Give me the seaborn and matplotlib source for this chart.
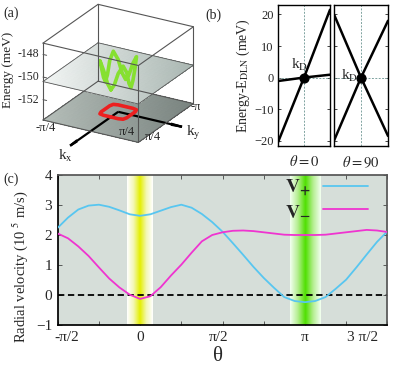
import numpy as np
import pandas as pd
import matplotlib
matplotlib.use('Agg')
import matplotlib.pyplot as plt
import seaborn as sns
from matplotlib.colors import LinearSegmentedColormap
from matplotlib.transforms import ScaledTranslation, Bbox

PI = np.pi
W, H = 399, 368

# ---- (c) radial velocity, theta sampled every pi/16 from -pi/2 to 3pi/2
theta_step = list(range(-8, 25))
v_plus = [2.25, 2.59, 2.86, 2.99, 3.02, 2.95, 2.83, 2.70, 2.65, 2.70, 2.82,
          2.94, 3.02, 2.92, 2.71, 2.44, 2.12, 1.74, 1.35, 0.95, 0.58, 0.25,
          -0.06, -0.19, -0.23, -0.19, -0.06, 0.22, 0.52, 0.93, 1.36, 1.78, 2.13]
v_minus = [2.06, 1.90, 1.63, 1.31, 0.93, 0.56, 0.26, 0.02, -0.12, -0.03, 0.27,
           0.66, 1.02, 1.42, 1.80, 2.01, 2.10, 2.15, 2.16, 2.14, 2.10, 2.06,
           2.02, 2.01, 2.01, 2.01, 2.02, 2.06, 2.10, 2.14, 2.18, 2.16, 2.11]
band_center = [0, PI]
band_halfwidth = [0.245, 0.293]
c_xticks = [-PI / 2, 0, PI / 2, PI, 3 * PI / 2]
c_xticklabels = ['-π/2', '0', 'π/2', 'π', '3 π/2']

# ---- (b) dispersion through the Dirac node
k_b = [-1, 0, 1]
e_theta0_steep = [-20.5, 0, 21.5]
e_theta0_flat = [-1.1, 0, 0.9]
e_theta90_down = [20, 0, -18.5]
e_theta90_up = [-20, 0, 18]

# ---- (a) nodal loop: angle (deg), radius, energy (meV)
loop_angle = [0, 15, 30, 45, 60, 75, 90, 105, 120, 135, 150, 165, 180, 195,
              210, 225, 240, 255, 270, 285, 300, 315, 330, 345, 360]
loop_r = [0.21, 0.217, 0.243, 0.27, 0.243, 0.217, 0.21, 0.217, 0.243, 0.27,
          0.243, 0.217, 0.21, 0.217, 0.243, 0.27, 0.243, 0.217, 0.21, 0.217,
          0.243, 0.27, 0.243, 0.217, 0.21]
loop_e = [-151.4, -150.9, -149.8, -149.1, -149.8, -150.9, -151.4, -150.9,
          -149.8, -149.1, -149.8, -150.9, -151.4, -150.9, -149.8, -149.1,
          -149.8, -150.9, -151.4, -150.9, -149.8, -149.1, -149.8, -150.9, -151.4]
z_ticks = [-148, -150, -152]
z_bottom, z_top, z_mid = -153.8, -147.0, -150.4
kx_arrow, ky_arrow = 1.37, 1.05

sns.set_theme(style='ticks')
plt.rcParams['font.family'] = ['Liberation Serif', 'DejaVu Serif']
plt.rcParams['mathtext.fontset'] = 'stix'

fig = plt.figure(figsize=(W / 100, H / 100), dpi=100)

# ================= panel (c)
axc = fig.add_axes([57.7 / W, 1 - 325.3 / H, 329.6 / W, 150 / H])
axc.set_facecolor('#d6ded9')

for c, hw, cols in zip(band_center, band_halfwidth,
                       [['#ffffff', '#f3f7b5', '#e4ef00', '#f3f7b5', '#ffffff'],
                        ['#f2fff0', '#b5ee90', '#4fe000', '#b5ee90', '#f2fff0']]):
    cmap = LinearSegmentedColormap.from_list('band', cols)
    axc.imshow(np.linspace(0, 1, 101)[None, :], cmap=cmap, aspect='auto',
               extent=(c - hw, c + hw, -1, 4), zorder=1, interpolation='bilinear')

df = pd.DataFrame({
    'theta': np.tile(np.array(theta_step) * PI / 16, 2),
    'v': v_plus + v_minus,
    'branch': ['V+'] * len(v_plus) + ['V-'] * len(v_minus),
})
sns.lineplot(data=df, x='theta', y='v', hue='branch',
             palette={'V+': '#58c6f0', 'V-': '#ef34d0'}, lw=1.3,
             legend=False, ax=axc, zorder=3)
axc.axhline(0, color='black', ls=(0, (3.5, 2)), lw=1.3, zorder=2)

axc.set_xlim(-PI / 2, 3 * PI / 2)
axc.set_ylim(-1, 4)
axc.set_xticks(c_xticks)
axc.set_xticklabels(c_xticklabels)
axc.set_xticks([-PI / 4, PI / 4, 3 * PI / 4, 5 * PI / 4], minor=True)
axc.set_yticks([-1, 0, 1, 2, 3, 4])
axc.tick_params(which='both', direction='in', top=True, right=True, length=3,
                width=0.6, color='#444444', labelsize=11, pad=4)
shifts = [9, 0, -4, 0, -25]
for lab, dx in zip(axc.get_xticklabels(), shifts):
    lab.set_transform(lab.get_transform() + ScaledTranslation(dx / 100, 0, fig.dpi_scale_trans))
for s in ['top', 'right']:
    axc.spines[s].set_color('#555555')
for s in ['left', 'bottom']:
    axc.spines[s].set_color('black')
axc.set_xlabel('θ', fontsize=15)
axc.xaxis.set_label_coords(0.486, -0.145)
axc.set_ylabel('Radial velocity (10 $^{5}$ m/s)', fontsize=10.5)
axc.yaxis.set_label_coords(-0.085, 0.39)

lines = axc.get_lines()[:2]
axc.legend(lines, [r'$\mathbf{V_{+}}$', r'$\mathbf{V_{-}}$'], loc='upper right',
           bbox_to_anchor=(0.94, 0.985), frameon=False, fontsize=14,
           markerfirst=False, handlelength=2.3, labelspacing=0.15,
           borderaxespad=0, borderpad=0, handletextpad=0.6)
fig.text(3 / W, 1 - 183 / H, '(c)', fontsize=10)

# ================= panel (b)
axb1 = fig.add_axes([278 / W, 1 - 146 / H, 52 / W, 141 / H])
axb2 = fig.add_axes([334 / W, 1 - 146 / H, 54 / W, 141 / H])
for ax, lines_b, lab in [(axb1, [e_theta0_steep, e_theta0_flat], r'$\theta = 0$'),
                         (axb2, [e_theta90_down, e_theta90_up], r'$\theta = 90$')]:
    ax.axvline(0, color='#7fa3a0', ls=(0, (2, 1.5)), lw=0.7, zorder=1)
    ax.axhline(0, color='#7fa3a0', ls=(0, (2, 1.5)), lw=0.7, zorder=1)
    for e in lines_b:
        sns.lineplot(x=k_b, y=e, color='black', lw=1.8, ax=ax, zorder=2)
    ax.scatter([0], [0], s=40, color='black', zorder=3)
    ax.set_xlim(-1, 1)
    ax.set_ylim(-21.7, 23)
    ax.set_xticks([])
    ax.set_yticks([-20, -10, 0, 10, 20])
    ax.tick_params(axis='y', direction='in', left=True, right=True, length=2.5,
                   width=0.6, labelsize=9, pad=3)
    ax.set_xlabel(lab, fontsize=10.5, labelpad=6)
    for s in ax.spines.values():
        s.set_color('black')
        s.set_linewidth(1.0)
axb2.set_yticklabels([])
axb1.set_ylabel(r'Energy-E$_{\rm DLN}$ (meV)', fontsize=10, labelpad=2)
axb1.text(-0.5, 1.3, r'k$_{\rm D}$', fontsize=11, ha='left', va='bottom')
axb2.text(-0.12, 0.5, r'k$_{\rm D}$', fontsize=11, ha='right', va='center')
fig.text(205 / W, 1 - 19 / H, '(b)', fontsize=10)

# ================= panel (a)
kb = PI / 4
ax3 = fig.add_axes([0.0, 0.56, 0.6, 0.44], projection='3d')
ax3.set_proj_type('ortho')
ax3.view_init(elev=24, azim=30)
ax3.set_xticks([])
ax3.set_yticks([])
ax3.set_zticks([])
ax3.set_axis_off()
ax3.patch.set_alpha(0)
ax3.computed_zorder = False
ax3.set_xlim(-kb, kb)
ax3.set_ylim(-kb, kb)
ax3.set_zlim(z_bottom, z_top)


def to_px(x, y, z):
    # 3D point -> figure pixels, measured from the top-left corner
    v = ax3.M @ np.array([x, y, z, 1.0])
    px, py = ax3.transData.transform((v[0] / v[3], v[1] / v[3]))
    return px, H - py


# fit the projected box onto the reference frame of panel (a)
aspect_z, zoom = 0.69, 1.2
for _ in range(5):
    ax3.set_box_aspect((1, 1, aspect_z), zoom=zoom)
    fig.canvas.draw()
    lb, rb, lt = to_px(kb, -kb, z_bottom), to_px(-kb, kb, z_bottom), to_px(kb, -kb, z_top)
    zoom *= 150 / (rb[0] - lb[0])
    aspect_z *= 77 / (lb[1] - lt[1])
ax3.set_box_aspect((1, 1, aspect_z), zoom=zoom)
fig.canvas.draw()
lb = to_px(kb, -kb, z_bottom)
pos = ax3.get_position()
ax3.set_position([pos.x0 + (43 - lb[0]) / W, pos.y0 - (120 - lb[1]) / H, pos.width, pos.height])
fig.canvas.draw()

gx, gy = np.meshgrid(np.linspace(-kb, kb, 25), np.linspace(-kb, kb, 25))
screen = (1 + (-0.5 * gx + 0.866 * gy) / (1.37 * kb)) / 2
cm_bot = LinearSegmentedColormap.from_list('bot', ['#b5beb9', '#78827e'])
cm_mid = LinearSegmentedColormap.from_list('mid', ['#f2f5f4', '#a9b6b1'])
ax3.plot_surface(gx, gy, np.full_like(gx, z_bottom), facecolors=cm_bot(screen),
                 shade=False, linewidth=0, antialiased=False, zorder=1)

phi = np.radians(loop_angle)
lx = np.array(loop_r) * np.cos(phi)
ly = np.array(loop_r) * np.sin(phi)
ax3.quiver(0, 0, z_bottom, kx_arrow, 0, 0, color='black', lw=1.6,
           arrow_length_ratio=0.15, zorder=2)
ax3.quiver(0, 0, z_bottom, 0, ky_arrow, 0, color='black', lw=1.6,
           arrow_length_ratio=0.18, zorder=2)
ax3.plot(lx, ly, np.full_like(lx, z_bottom), color='#ec2020', lw=2.6, zorder=3)

ax3.plot_surface(gx, gy, np.full_like(gx, z_mid), facecolors=cm_mid(screen),
                 shade=False, linewidth=0, antialiased=False, zorder=4)
ax3.plot(lx, ly, loop_e, color='#86e030', lw=2.6, zorder=5)

corners = [(-kb, -kb), (kb, -kb), (kb, kb), (-kb, kb)]
for i in range(4):
    x0, y0 = corners[i]
    x1, y1 = corners[(i + 1) % 4]
    for z in (z_bottom, z_mid, z_top):
        ax3.plot([x0, x1], [y0, y1], [z, z], color='#555555',
                 lw=0.8 if z != z_mid else 0.6, zorder=6)
    ax3.plot([x0, x0], [y0, y0], [z_bottom, z_top], color='#555555', lw=0.8, zorder=6)
for z in z_ticks:
    ax3.plot([kb, kb], [-kb, -kb + 0.06], [z, z], color='#555555', lw=0.7, zorder=6)


def label3d(x, y, z, s, dx, dy, **kw):
    px, py = to_px(x, y, z)
    return fig.text((px + dx) / W, 1 - (py + dy) / H, s, **kw)


for z in z_ticks:
    label3d(kb, -kb, z, str(z), -4, 0, fontsize=8.5, ha='right', va='center')
label3d(kb, -kb, z_bottom, '-π/4', 3, 8, fontsize=9, ha='center', va='center')
label3d(kb, kb, z_bottom, 'π/4', -12, -10, fontsize=9, ha='center', va='center')
label3d(kb, kb, z_bottom, 'π/4', 14, -5, fontsize=9, ha='center', va='center')
t = label3d(-kb, kb, z_bottom, '-π/4', -3, 3, fontsize=9, ha='left', va='center')
t.set_clip_box(Bbox([[0, 0], [200, H]]))
t.set_clip_on(True)
label3d(kx_arrow, 0, z_bottom, r'k$_{\rm x}$', -5, 10, fontsize=11, ha='center', va='center')
label3d(0, ky_arrow, z_bottom, r'k$_{\rm y}$', 11, 6, fontsize=11, ha='center', va='center')
fig.text(8 / W, 1 - 70 / H, 'Energy (meV)', fontsize=9.5, rotation=90,
         ha='center', va='center')
fig.text(3 / W, 1 - 17 / H, '(a)', fontsize=10)

fig.savefig('out.png', dpi=100)
